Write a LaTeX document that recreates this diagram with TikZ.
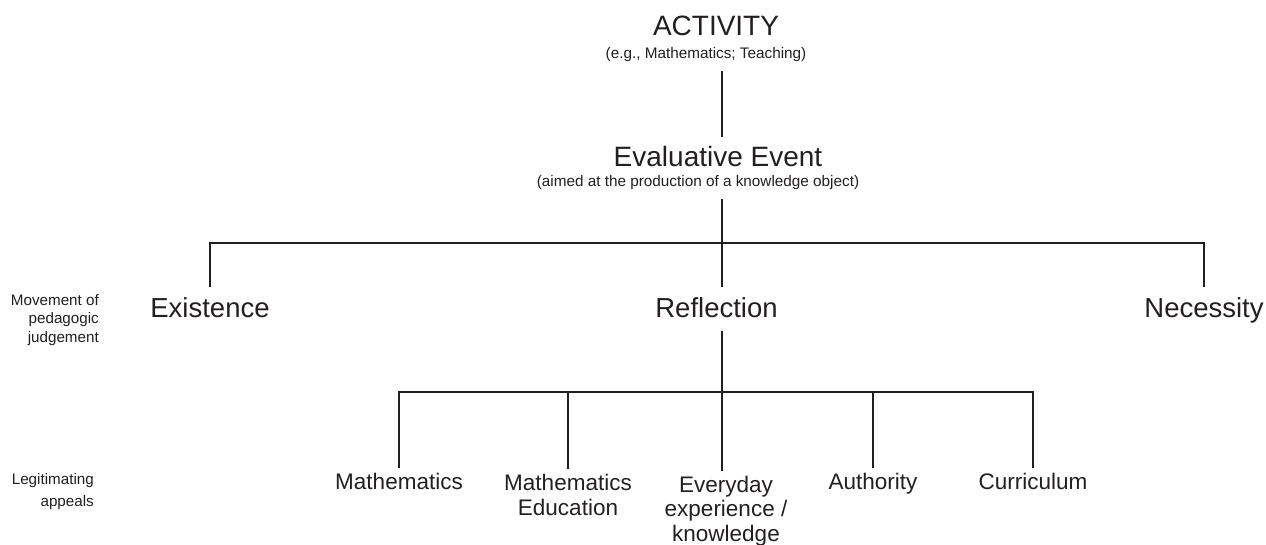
\documentclass[tikz,border=0pt]{standalone}
\usepackage{fontspec}
\setmainfont{Liberation Sans}
\definecolor{ink}{HTML}{231F20}

\begin{document}
\begin{tikzpicture}[x=1pt, y=-1pt, line width=2.4pt, color=ink,
  head/.style={font=\fontsize{27.5}{30}\selectfont, inner sep=0pt, text height=19.7pt, text depth=4pt, outer ysep=10pt, anchor=base},
  note/.style={font=\fontsize{15.3}{18}\selectfont, inner sep=0pt, text height=11pt, text depth=3.5pt, outer ysep=8.5pt, anchor=base},
  appeal/.style={font=\fontsize{22.5}{25}\selectfont, inner sep=0pt, outer ysep=5pt, align=center, anchor=base},
  side/.style={font=\fontsize{15.2}{18.5}\selectfont, inner sep=0pt, align=right, anchor=base east}]
\useasboundingbox (0,0) rectangle (1266,545);

\node[head, font=\fontsize{28}{30}\selectfont] (act) at (716,36) {ACTIVITY};
\node[note] (actnote) at (706,59) {(e.g., Mathematics; Teaching)};
\node[head, font=\fontsize{28}{30}\selectfont] (eval) at (718,167) {Evaluative Event};
\node[note] (evalnote) at (698,187) {(aimed at the production of a knowledge object)};

\node[head] (exist) at (210,317) {Existence};
\node[head] (refl) at (716.5,317) {Reflection};
\node[head] (necess) at (1204,317) {Necessity};

% multi-line nodes sit on their last line
\node[appeal] (math) at (399,489) {Mathematics};
\node[appeal] (mathed) at (568,515) {Mathematics\\Education};
\node[appeal, font=\fontsize{22.5}{24.5}\selectfont] (everyday) at (726,541) {Everyday\\experience /\\knowledge};
\node[appeal] (author) at (873,489) {Authority};
\node[appeal] (curric) at (1033,489) {Curriculum};

\node[side] (movement) at (100,342) {Movement of\\pedagogic\\judgement};
\node[side, font=\fontsize{15.2}{21.5}\selectfont] (legit) at (95,506) {Legitimating\\appeals};

\coordinate (top) at (722,243);
\coordinate (mid) at (722,392);

\draw (actnote.south -| top) -- (eval.north -| top);
\draw (evalnote.south -| top) -- (top);
\draw (exist.north) |- (top) -| (necess.north);
\draw (top) -- (refl.north -| top);
\draw (refl.south -| top) -- (mid);

\draw (math.north) |- (mid) -| (curric.north);
\draw (mathed.north) -- (mathed.north |- mid);
\draw (mid) -- (everyday.north -| mid);
\draw (author.north) -- (author.north |- mid);
\end{tikzpicture}
\end{document}
